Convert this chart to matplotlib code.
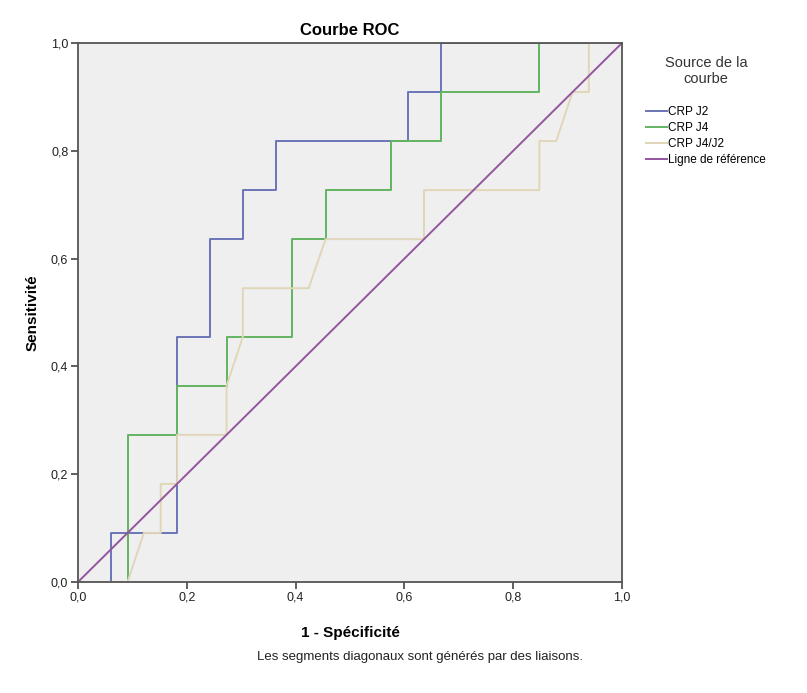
import matplotlib
matplotlib.use("Agg")
import matplotlib.pyplot as plt
from matplotlib.ticker import FuncFormatter

plt.rcParams["font.family"] = ["Liberation Sans", "DejaVu Sans"]

# ROC step curves (1 - specificity, sensitivity)
j2_fpr = [0.0, 0.061, 0.061, 0.182, 0.182, 0.242, 0.242, 0.303, 0.303,
          0.364, 0.364, 0.606, 0.606, 0.667, 0.667, 1.0]
j2_tpr = [0.0, 0.0, 0.091, 0.091, 0.455, 0.455, 0.636, 0.636, 0.727,
          0.727, 0.818, 0.818, 0.909, 0.909, 1.0, 1.0]

j4_fpr = [0.0, 0.091, 0.091, 0.182, 0.182, 0.273, 0.273, 0.394, 0.394,
          0.455, 0.455, 0.576, 0.576, 0.667, 0.667, 0.848, 0.848, 1.0]
j4_tpr = [0.0, 0.0, 0.273, 0.273, 0.364, 0.364, 0.455, 0.455, 0.636,
          0.636, 0.727, 0.727, 0.818, 0.818, 0.909, 0.909, 1.0, 1.0]

ratio_fpr = [0.0, 0.091, 0.121, 0.152, 0.152, 0.182, 0.182, 0.273, 0.273,
             0.303, 0.303, 0.424, 0.455, 0.636, 0.636, 0.848, 0.848,
             0.879, 0.909, 0.939, 0.939, 1.0]
ratio_tpr = [0.0, 0.0, 0.091, 0.091, 0.182, 0.182, 0.273, 0.273, 0.364,
             0.455, 0.545, 0.545, 0.636, 0.636, 0.727, 0.727, 0.818,
             0.818, 0.909, 0.909, 1.0, 1.0]

ref_line = [0.0, 1.0]
ticks = [0.0, 0.2, 0.4, 0.6, 0.8, 1.0]

fig = plt.figure(figsize=(8.07, 6.93), dpi=100)
ax = fig.add_axes([0.0967, 0.1602, 0.6741, 0.7778])
ax.set_facecolor("#efefef")

ax.plot(j2_fpr, j2_tpr, color="#6b74b6", lw=1.4, label="CRP J2")
ax.plot(j4_fpr, j4_tpr, color="#62b462", lw=1.4, label="CRP J4")
ax.plot(ratio_fpr, ratio_tpr, color="#e0d6b8", lw=1.4, label="CRP J4/J2")
ax.plot(ref_line, ref_line, color="#94559f", lw=1.4,
        label="Ligne de référence")

ax.set_xlim(0, 1)
ax.set_ylim(0, 1)
ax.set_xticks(ticks)
ax.set_yticks(ticks)
fmt = FuncFormatter(lambda v, p: f"{v:.1f}".replace(".", ","))
ax.xaxis.set_major_formatter(fmt)
ax.yaxis.set_major_formatter(fmt)
ax.tick_params(direction="out", length=5, width=1.2, labelsize=9,
               color="#444444", labelcolor="#222222", pad=2)
for sp in ax.spines.values():
    sp.set_color("#555555")
    sp.set_linewidth(1.3)

ax.set_title("Courbe ROC", fontsize=12, fontweight="bold", pad=6)
ax.set_xlabel("1 - Spécificité", fontsize=11, fontweight="bold", labelpad=16)
ax.set_ylabel("Sensitivité", fontsize=11, fontweight="bold", labelpad=8)

leg = fig.legend(loc="upper left", bbox_to_anchor=(0.787, 0.935),
                 title="Source de la\ncourbe\n", fontsize=8.5,
                 title_fontsize=10.5, frameon=False, handlelength=1.8,
                 handletextpad=0.1, labelspacing=0.33)
leg.get_title().set_multialignment("center")
leg.get_title().set_color("#333333")

fig.text(0.52, 0.052, "Les segments diagonaux sont générés par des liaisons.",
         ha="center", va="center", fontsize=9.5, color="#222222")

fig.savefig("out.png", dpi=100)
